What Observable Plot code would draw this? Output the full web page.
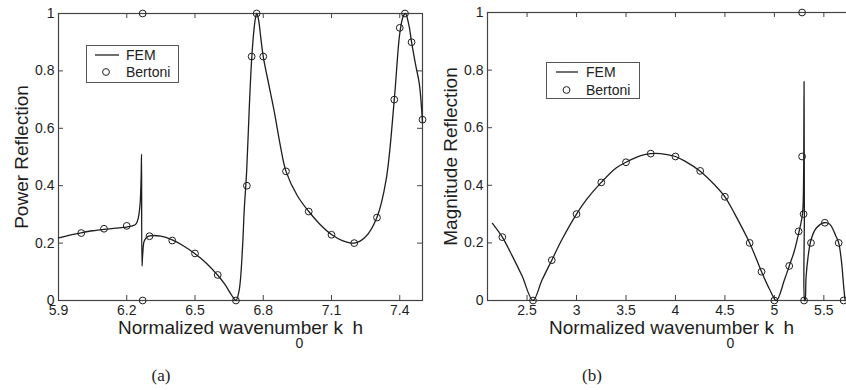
<!DOCTYPE html>
<html>
<head>
<meta charset="utf-8">
<script src="https://cdn.jsdelivr.net/npm/d3@7"></script>
<script src="https://cdn.jsdelivr.net/npm/@observablehq/plot@0.6"></script>
<style>
  html, body { margin: 0; padding: 0; background: #fff; }
  body { width: 846px; height: 390px; overflow: hidden; position: relative; font-family: Arial, "Liberation Sans", sans-serif; }
  .panel { position: absolute; top: 0; width: 430px; height: 390px; }
  .panel svg { max-width: none !important; }
  .legend { position: absolute; border: 1px solid #555; background: #fff; box-sizing: border-box; }
  .cap { position: absolute; font-family: "Liberation Serif", "Times New Roman", serif; font-size: 17px; color: #222; transform: translate(-50%, -50%); }
</style>
</head>
<body>
<div id="pa" class="panel" style="left:0px"></div>
<div id="pb" class="panel" style="left:430px"></div>
<div class="legend" style="left:86px;top:45px;width:93px;height:38px">
  <svg width="91" height="36" style="position:absolute;left:0;top:0">
    <line x1="8" x2="32" y1="9" y2="9" stroke="#222" stroke-width="1.3"/>
    <text x="39" y="14" font-size="14" fill="#222" font-family="Arial, 'Liberation Sans', sans-serif">FEM</text>
    <circle cx="19" cy="26" r="3.4" fill="none" stroke="#222" stroke-width="1"/>
    <text x="39" y="31" font-size="14" fill="#222" font-family="Arial, 'Liberation Sans', sans-serif">Bertoni</text>
  </svg>
</div>
<div class="legend" style="left:546px;top:62px;width:94px;height:37px">
  <svg width="92" height="35" style="position:absolute;left:0;top:0">
    <line x1="9" x2="31" y1="9" y2="9" stroke="#222" stroke-width="1.3"/>
    <text x="39" y="14" font-size="14" fill="#222" font-family="Arial, 'Liberation Sans', sans-serif">FEM</text>
    <circle cx="19.5" cy="27" r="3.4" fill="none" stroke="#222" stroke-width="1"/>
    <text x="39" y="32" font-size="14" fill="#222" font-family="Arial, 'Liberation Sans', sans-serif">Bertoni</text>
  </svg>
</div>
<div class="cap" style="left:161px;top:376px">(a)</div>
<div class="cap" style="left:592px;top:376px">(b)</div>
<script>
// ---- shared ticks ----
const yTicks = [0, 0.2, 0.4, 0.6, 0.8, 1];
const xTicksA = [5.9, 6.2, 6.5, 6.8, 7.1, 7.4];
const xTicksB = [2.5, 3, 3.5, 4, 4.5, 5, 5.5];

// ---- panel (a): power reflection ----
const femAX = [5.9, 5.95, 6.0, 6.05, 6.1, 6.15, 6.2, 6.225, 6.24, 6.25, 6.258, 6.263, 6.265, 6.267, 6.27, 6.276, 6.285, 6.3,
  6.35, 6.4, 6.45, 6.5, 6.55, 6.6, 6.63, 6.66, 6.68, 6.694, 6.709, 6.716, 6.727, 6.738, 6.749, 6.76, 6.766, 6.772, 6.78, 6.79, 6.8,
  6.825, 6.848, 6.875, 6.9, 6.95, 7.0, 7.05, 7.1, 7.15, 7.2, 7.25, 7.3, 7.34, 7.376, 7.4, 7.415, 7.425, 7.44, 7.452, 7.47, 7.486, 7.5];
const femAY = [0.218, 0.228, 0.236, 0.243, 0.248, 0.252, 0.256, 0.26, 0.266, 0.285, 0.33, 0.42, 0.51, 0.12, 0.16, 0.205, 0.218, 0.225,
  0.224, 0.211, 0.19, 0.163, 0.13, 0.088, 0.058, 0.02, 0.0, 0.035, 0.186, 0.31, 0.45, 0.66, 0.84, 0.95, 0.985, 1.0, 0.975, 0.91, 0.85,
  0.75, 0.66, 0.54, 0.45, 0.365, 0.31, 0.265, 0.23, 0.208, 0.2, 0.222, 0.29, 0.42, 0.7, 0.93, 0.99, 1.0, 0.96, 0.9, 0.82, 0.755, 0.62];
const bertAX = [6.0, 6.1, 6.2, 6.27, 6.27, 6.3, 6.4, 6.5, 6.6, 6.68, 6.728, 6.749, 6.771, 6.8, 6.9, 7.0, 7.1, 7.2, 7.3, 7.376, 7.4, 7.423, 7.452, 7.5];
const bertAY = [0.235, 0.25, 0.26, 0.0, 1.0, 0.224, 0.209, 0.164, 0.089, 0.0, 0.4, 0.85, 1.0, 0.85, 0.45, 0.31, 0.229, 0.2, 0.289, 0.7, 0.95, 1.0, 0.9, 0.63];

// ---- panel (b): magnitude reflection ----
const femBX = [2.15, 2.25, 2.35, 2.45, 2.56, 2.65, 2.75, 2.85, 3.0, 3.1, 3.25, 3.4, 3.5, 3.65, 3.75, 3.85, 4.0, 4.1, 4.25, 4.4, 4.5,
  4.6, 4.75, 4.87, 4.95, 5.02, 5.1, 5.15, 5.2, 5.25, 5.28, 5.29, 5.296, 5.3, 5.303, 5.306, 5.31, 5.32, 5.34, 5.37, 5.42, 5.5, 5.56,
  5.62, 5.65, 5.68, 5.7, 5.715];
const femBY = [0.268, 0.22, 0.155, 0.085, 0.0, 0.07, 0.14, 0.21, 0.3, 0.35, 0.41, 0.46, 0.48, 0.503, 0.51, 0.51, 0.5, 0.483, 0.449, 0.4, 0.36,
  0.3, 0.2, 0.1, 0.04, 0.0, 0.07, 0.12, 0.17, 0.24, 0.29, 0.33, 0.45, 0.76, 0.3, 0.0, 0.0, 0.08, 0.15, 0.21, 0.25, 0.27, 0.265,
  0.225, 0.2, 0.13, 0.05, 0.0];
const bertBX = [2.25, 2.56, 2.75, 3.0, 3.25, 3.5, 3.75, 4.0, 4.25, 4.5, 4.75, 4.87, 5.0, 5.15, 5.245, 5.295, 5.28, 5.28, 5.3, 5.37, 5.51, 5.65, 5.7];
const bertBY = [0.22, 0.0, 0.14, 0.3, 0.41, 0.48, 0.51, 0.5, 0.45, 0.36, 0.2, 0.1, 0.0, 0.12, 0.24, 0.3, 0.5, 1.0, 0.0, 0.2, 0.27, 0.2, 0.0];

const INK = "#1e1e1e";
const FONT = "Arial, 'Liberation Sans', sans-serif";

function panel({femX, femY, bX, bY, xDomain, xTicks, yLabel, width, marginLeft, marginRight, marginTop}) {
  const height = 390, marginBottom = 90;
  const fh = height - marginTop - marginBottom;
  const fw = width - marginLeft - marginRight;
  const fem = femX.map((x, i) => ({x, y: femY[i]}));
  const bert = bX.map((x, i) => ({x, y: bY[i]}));
  const fmt = d => String(d);
  return Plot.plot({
    width, height, marginTop, marginBottom, marginLeft, marginRight,
    style: {fontFamily: FONT, fontSize: "14px", color: INK, background: "transparent", overflow: "visible", maxWidth: "none"},
    x: {domain: xDomain},
    y: {domain: [0, 1]},
    marks: [
      Plot.frame({stroke: "#444", strokeWidth: 1.2}),
      Plot.tickX(xTicks, {x: d => d, insetTop: fh - 5, stroke: "#444"}),
      Plot.tickX(xTicks, {x: d => d, insetBottom: fh - 5, stroke: "#444"}),
      Plot.tickY(yTicks, {y: d => d, insetRight: fw - 5, stroke: "#444"}),
      Plot.tickY(yTicks, {y: d => d, insetLeft: fw - 5, stroke: "#444"}),
      Plot.axisX(xTicks, {tickSize: 0, tickPadding: 5, tickFormat: fmt, label: null, fontSize: 14}),
      Plot.axisY(yTicks, {tickSize: 0, tickPadding: 4, tickFormat: fmt, label: null, fontSize: 14}),
      Plot.text(["Normalized wavenumber k\u2002h"], {text: d => d, frameAnchor: "bottom", dy: 20, lineAnchor: "top", textAnchor: "middle", fontSize: 19, fill: INK}),
      Plot.text(["0"], {text: d => d, frameAnchor: "bottom", dx: 59, dy: 38, lineAnchor: "top", textAnchor: "middle", fontSize: 14, fill: INK}),
      Plot.text([yLabel], {text: d => d, frameAnchor: "left", rotate: -90, dx: -37, textAnchor: "middle", lineAnchor: "middle", fontSize: 19, fill: INK}),
      Plot.line(fem, {x: "x", y: "y", stroke: INK, strokeWidth: 1.3, curve: "catmull-rom"}),
      Plot.dot(bert, {x: "x", y: "y", r: 3.4, stroke: INK, strokeWidth: 1, fill: "none"})
    ]
  });
}

document.getElementById("pa").append(panel({
  femX: femAX, femY: femAY, bX: bertAX, bY: bertAY,
  xDomain: [5.9, 7.5], xTicks: xTicksA, yLabel: "Power Reflection",
  width: 430, marginLeft: 58, marginRight: 8, marginTop: 13
}));
document.getElementById("pb").append(panel({
  femX: femBX, femY: femBY, bX: bertBX, bY: bertBY,
  xDomain: [2.1, 5.82], xTicks: xTicksB, yLabel: "Magnitude Reflection",
  width: 430, marginLeft: 57, marginRight: 5, marginTop: 12
}));
</script>
</body>
</html>
